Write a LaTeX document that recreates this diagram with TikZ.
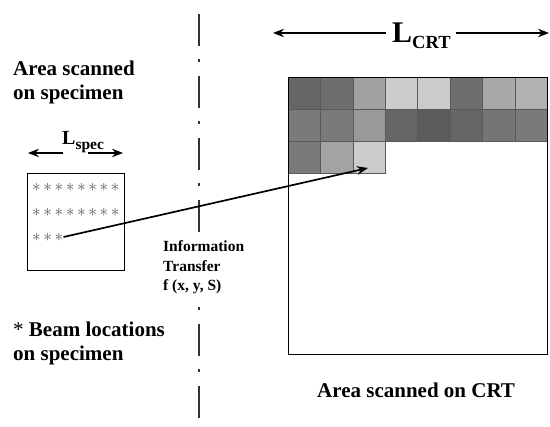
\documentclass[tikz,border=0pt]{standalone}
\usepackage{fontspec}
\setmainfont{Liberation Serif}
\usetikzlibrary{arrows.meta}
\newcommand{\sr}{$\ast$\hspace{2.6pt}}
\begin{document}
\begin{tikzpicture}[x=1pt,y=-1pt,
  lbl/.style={font=\fontsize{21}{24}\selectfont\bfseries, anchor=base west, inner sep=0pt},
  info/.style={font=\fontsize{15.5}{19.5}\selectfont\bfseries, align=left, anchor=north west, inner sep=2pt, fill=white},
  starrow/.style={anchor=west, inner sep=0pt, text=black!65, font=\fontsize{16}{16}\selectfont},
  arr/.style={line width=1.4pt, -{Stealth[length=11pt,width=8.5pt]}},
  box/.style={draw, line width=1.3pt, inner sep=0pt, anchor=north west},
  cell/.style={draw=black!65, line width=0.4pt},
  divider/.style={line width=2.8pt, black!80, dash pattern=on 32pt off 13.5pt on 3pt off 13.5pt}
]
\useasboundingbox (0,0) rectangle (550,427);
\def\cw{32.4}
\def\ch{32.2}
% CRT grid cells
\foreach \s [count=\i from 0] in {60,57,37,20,20,57,34,30}
  \filldraw[cell, fill=black!\s] ({288+\i*\cw},77) rectangle ++(\cw,\ch);
\foreach \s [count=\i from 0] in {52,52,40,60,64,60,54,52}
  \filldraw[cell, fill=black!\s] ({288+\i*\cw},{77+\ch}) rectangle ++(\cw,\ch);
\foreach \s [count=\i from 0] in {52,36,20}
  \filldraw[cell, fill=black!\s] ({288+\i*\cw},{77+2*\ch}) rectangle ++(\cw,\ch);
% boxes
\node[box, minimum width=259pt, minimum height=277pt] (crt) at (288,77) {};
\node[box, minimum width=97pt, minimum height=97pt] (spec) at (27,173) {};
% divider
\draw[divider] (199,14) -- (199,427);
% stars
\node[starrow] (row1) at (32,187) {\sr\sr\sr\sr\sr\sr\sr$\ast$};
\node[starrow] (row2) at (32,212) {\sr\sr\sr\sr\sr\sr\sr$\ast$};
\node[starrow] (row3) at (32,237) {\sr\sr$\ast$};
% information transfer
\coordinate (tgt) at (368,168);
\draw[arr, line width=1.7pt] (row3.east) -- (tgt);
\node[info] (info) at (161,238.5) {Information\\Transfer\\f (x, y, S)};
% labels
\node[lbl] (a1) at (13,76) {Area scanned};
\node[lbl] (a2) at (13,100) {on specimen};
\node[lbl] (b1) at (13,337) {{\mdseries *} Beam locations};
\node[lbl] (b2) at (13,361) {on specimen};
\node[lbl] (c1) at (317,398) {Area scanned on CRT};
% dimension labels
\node[anchor=base west, inner sep=0pt, font=\bfseries] (lspec) at (62,145)
  {\fontsize{20}{20}\selectfont L\raisebox{-5pt}{\fontsize{15.5}{16}\selectfont spec}};
\coordinate (ls1) at (28,153);
\coordinate (ls2) at (63,153);
\coordinate (ls3) at (88,153);
\coordinate (ls4) at (123,153);
\draw[arr] (ls2) -- (ls1);
\draw[arr] (ls3) -- (ls4);
\node[anchor=base west, inner sep=0pt, font=\bfseries] (lcrt) at (392,43)
  {\fontsize{30}{30}\selectfont L\raisebox{-6pt}{\fontsize{18.5}{19}\selectfont CRT}};
\coordinate (lc1) at (273,33);
\coordinate (lc2) at (386,33);
\coordinate (lc3) at (456,33);
\coordinate (lc4) at (549,33);
\draw[arr] (lc2) -- (lc1);
\draw[arr] (lc3) -- (lc4);
\end{tikzpicture}
\end{document}
